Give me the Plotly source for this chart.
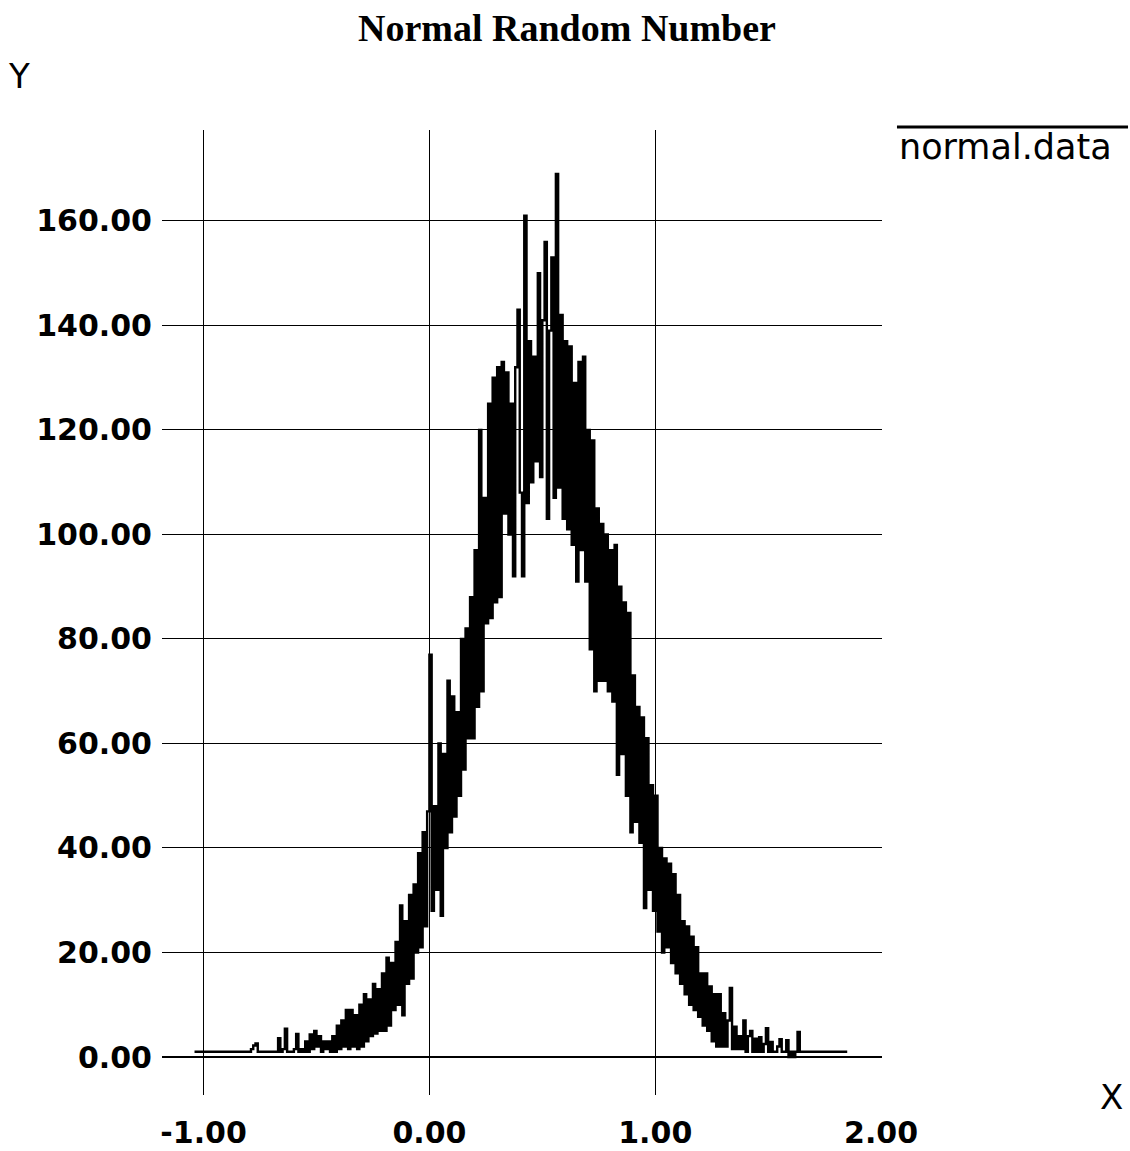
import plotly.graph_objects as go

# ---- data: histogram counts of normal random numbers (bin width 0.01 starting at -1.04) ----
bin_start = -1.04
bin_width = 0.01

# -1.04 .. -0.80
tail_left_flat = [1] * 25
# -0.79 .. -0.56
tail_left = [1.5, 2.2, 2.6, 1, 1, 1, 1, 1, 1, 1, 1, 1,
             3.6, 1, 1.5, 5.4, 1, 1, 1, 1.5, 4.4, 1, 1.5, 1]
# -0.55 .. -0.01
rise_left = [3, 1, 4.3, 1.5, 5, 2, 4, 1, 3, 1.5,
             3, 1, 4, 1, 6, 1.5, 7, 2, 9, 1.5,
             9, 2, 8, 1.5, 10, 2, 12, 3, 11, 4,
             14, 4.5, 13, 5, 16, 5, 19, 6, 18, 9,
             22, 10, 29, 8, 26, 14, 31, 15, 33, 20,
             39, 21, 43, 25, 47]
# 0.00 .. 0.49
peak_left = [77, 28, 48, 32, 60, 27, 58, 40, 72, 43,
             69, 46, 66, 50, 80, 55, 82, 61, 88, 61,
             97, 67, 120, 70, 107, 83, 125, 84, 130, 87,
             132, 88, 133, 104, 131, 100, 125, 92, 132, 143,
             108, 92, 161, 106, 137, 110, 134, 114, 150, 111]
# 0.50 .. 0.99
peak_right = [141, 156, 103, 139, 153, 107, 169, 109, 142, 103,
              137, 101, 136, 98, 129, 91, 133, 97, 134, 91,
              120, 78, 118, 70, 105, 72, 102, 72, 100, 70,
              97, 68, 98, 54, 90, 58, 87, 50, 85, 43,
              73, 45, 67, 41, 65, 28.5, 61, 32, 52, 28]
# 1.00 .. 1.64
fall_right = [50, 24, 40, 20, 38, 21, 37, 18, 35, 16,
              31, 14, 26, 12, 25, 10, 23, 9, 21, 7.7,
              16, 6, 16, 5, 13.5, 3, 12, 2, 12, 2,
              8.4, 2, 7, 13.2, 1.5, 5.8, 1.5, 4, 1.5, 7,
              1, 4, 5, 1, 3.5, 1, 3.8, 1, 2.5, 5.5,
              1, 2.9, 1, 1, 2, 3.4, 1, 1, 3.2, 0,
              1, 0, 1, 4.8, 1]
# 1.65 .. 1.85
tail_right_flat = [1] * 21

x_ticks = [-1, 0, 1, 2]
x_tick_text = ["-1.00", "0.00", "1.00", "2.00"]
y_ticks = [0, 20, 40, 60, 80, 100, 120, 140, 160]
y_tick_text = ["0.00", "20.00", "40.00", "60.00", "80.00", "100.00", "120.00", "140.00", "160.00"]

counts = tail_left_flat + tail_left + rise_left + peak_left + peak_right + fall_right + tail_right_flat
x_vals = [round(bin_start + i * bin_width, 2) for i in range(len(counts))]

fig = go.Figure()
fig.add_trace(go.Scatter(x=x_vals, y=counts, mode="lines",
                         line=dict(color="black", width=2.4, shape="hv"),
                         showlegend=False, name="normal.data"))

tick_font = dict(family="DejaVu Sans", size=30, color="black", weight="bold")

fig.update_layout(
    width=1130, height=1151, autosize=False,
    margin=dict(l=162, r=248, t=130, b=56, autoexpand=False),
    plot_bgcolor="white", paper_bgcolor="white",
    showlegend=False,
    xaxis=dict(range=[-1.184, 2.004], tickvals=x_ticks, ticktext=x_tick_text,
               showgrid=True, gridcolor="black", gridwidth=1.4,
               zeroline=False, showline=False, ticks="", automargin=False,
               tickfont=tick_font, ticklabelstandoff=17),
    yaxis=dict(range=[-7.27, 177.4], tickvals=y_ticks, ticktext=y_tick_text,
               showgrid=True, gridcolor="black", gridwidth=1.3,
               zeroline=True, zerolinecolor="black", zerolinewidth=2,
               showline=False, ticks="", automargin=False,
               tickfont=tick_font, ticklabelstandoff=9),
)

fig.add_annotation(text="<b>Normal Random Number</b>", x=0.5625, y=1.1057,
                   xref="paper", yref="paper", showarrow=False,
                   xanchor="center", yanchor="middle",
                   font=dict(family="Liberation Serif", size=38, color="black"))
fig.add_annotation(text="Y", x=-0.1986, y=1.056, xref="paper", yref="paper",
                   showarrow=False, xanchor="center", yanchor="middle",
                   font=dict(family="DejaVu Sans", size=34, color="black"))
fig.add_annotation(text="X", x=1.319, y=-0.002, xref="paper", yref="paper",
                   showarrow=False, xanchor="center", yanchor="middle",
                   font=dict(family="DejaVu Sans", size=34, color="black"))
fig.add_annotation(text="normal.data", x=1.0208, y=0.9824, xref="paper", yref="paper",
                   showarrow=False, xanchor="left", yanchor="middle",
                   font=dict(family="DejaVu Sans", size=35, color="black"))
fig.add_shape(type="line", xref="paper", yref="paper",
              x0=1.0208, x1=1.3417, y0=1.0031, y1=1.0031,
              line=dict(color="black", width=3))

fig.write_html("out.html", config={"displayModeBar": False},
               post_script="document.body.style.margin='0px';document.body.style.padding='0px';")
